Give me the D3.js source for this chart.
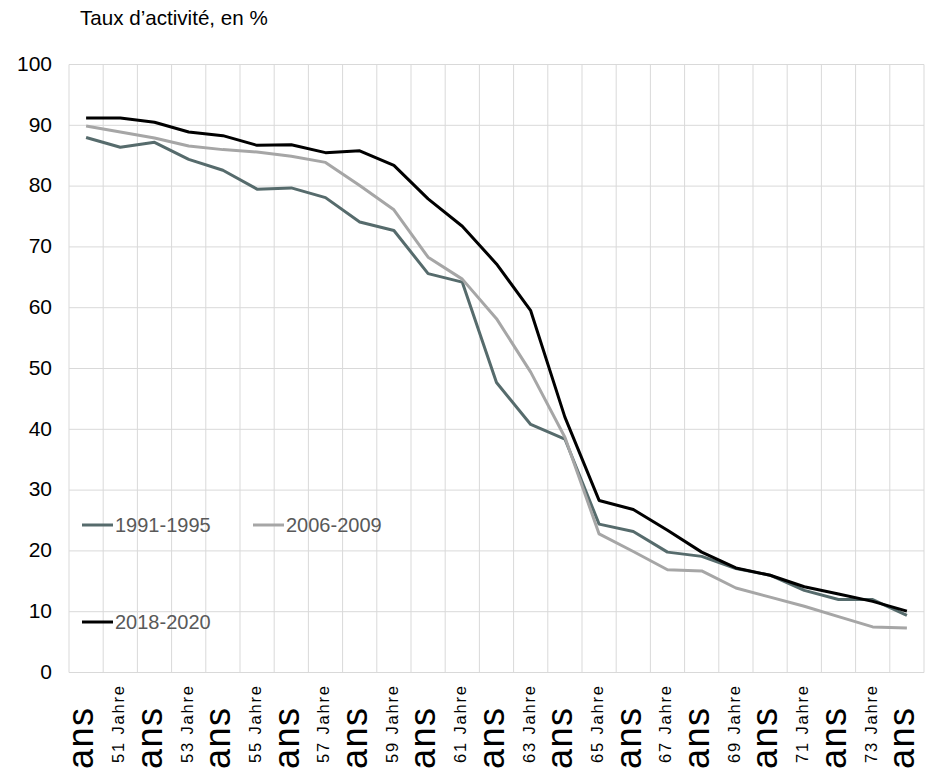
<!DOCTYPE html>
<html>
<head>
<meta charset="utf-8">
<script src="https://cdn.jsdelivr.net/npm/d3@7/dist/d3.min.js"></script>
<style>
  html, body { margin: 0; padding: 0; background: #fff; }
  svg { display: block; font-family: "Liberation Sans", Arial, sans-serif; }
</style>
</head>
<body>
<svg id="chart" width="934" height="772"></svg>
<script>
// Age categories (x axis) and their printed labels
const ages = ["50","51","52","53","54","55","56","57","58","59","60","61","62",
              "63","64","65","66","67","68","69","70","71","72","73","74"];
const ageLabels = ["ans","51 Jahre","ans","53 Jahre","ans","55 Jahre","ans",
                   "57 Jahre","ans","59 Jahre","ans","61 Jahre","ans","63 Jahre",
                   "ans","65 Jahre","ans","67 Jahre","ans","69 Jahre","ans",
                   "71 Jahre","ans","73 Jahre","ans"];

// Activity rate (%) per age, one array per period
const rate1991 = [88.0, 86.4, 87.2, 84.4, 82.6, 79.5, 79.7, 78.1, 74.1, 72.7, 65.6, 64.2, 47.7,
                  40.8, 38.4, 24.4, 23.2, 19.8, 19.1, 17.1, 16.0, 13.5, 12.0, 12.0, 9.4];
const rate2006 = [89.9, 88.9, 87.9, 86.6, 86.0, 85.6, 84.9, 83.9, 80.1, 76.1, 68.3, 64.7, 58.2,
                  49.4, 38.7, 22.8, 19.9, 16.9, 16.7, 13.9, 12.4, 10.9, 9.2, 7.5, 7.3];
const rate2018 = [91.2, 91.2, 90.5, 88.9, 88.3, 86.7, 86.8, 85.5, 85.8, 83.4, 77.9, 73.4, 67.2,
                  59.5, 42.0, 28.3, 26.8, 23.4, 19.8, 17.2, 16.0, 14.1, 12.9, 11.7, 10.1];

const seriesNames = ["1991-1995", "2006-2009", "2018-2020"];
const yTicks = [0, 10, 20, 30, 40, 50, 60, 70, 80, 90, 100];

const series = [
  { name: seriesNames[0], values: rate1991, color: "#566b6c" },
  { name: seriesNames[1], values: rate2006, color: "#a6a6a6" },
  { name: seriesNames[2], values: rate2018, color: "#000000" }
];

const svg = d3.select("#chart");
const plot = { left: 69, right: 924, top: 64.5, bottom: 672.5 };

const x = d3.scaleBand().domain(ages).range([plot.left, plot.right]).paddingInner(0).paddingOuter(0);
const y = d3.scaleLinear().domain([0, 100]).range([plot.bottom, plot.top]);

// Title
svg.append("text")
  .attr("x", 80).attr("y", 25)
  .attr("font-size", 20.6).attr("fill", "#000")
  .text("Taux d’activité, en %");

// Grid: horizontal lines at each tick, vertical lines at band boundaries
const grid = svg.append("g").attr("stroke", "#d9d9d9").attr("stroke-width", 1);
grid.selectAll("line.h").data(yTicks).join("line")
  .attr("class", "h")
  .attr("x1", plot.left).attr("x2", plot.right)
  .attr("y1", d => y(d)).attr("y2", d => y(d));
const boundaries = ages.map(a => x(a)).concat([x(ages[ages.length - 1]) + x.bandwidth()]);
grid.selectAll("line.v").data(boundaries).join("line")
  .attr("class", "v")
  .attr("x1", d => d).attr("x2", d => d)
  .attr("y1", plot.top).attr("y2", plot.bottom);

// Y axis labels
const yAxis = svg.append("g")
  .attr("transform", `translate(${plot.left - 17},0)`)
  .call(d3.axisLeft(y).tickValues(yTicks).tickSize(0).tickPadding(0).tickFormat(d3.format("d")));
yAxis.select(".domain").remove();
yAxis.selectAll("text")
  .attr("font-size", 21).attr("fill", "#000")
  .attr("font-family", "Liberation Sans, Arial, sans-serif")
  .attr("dy", "0.28em");

// X axis labels, rotated; even ages use the large style
const xLab = svg.append("g");
ages.forEach((a, i) => {
  const cx = x(a) + x.bandwidth() / 2;
  const big = i % 2 === 0;
  const t = xLab.append("text")
    .attr("transform", `translate(${cx - 2},${big ? 708 : 686}) rotate(-90)`)
    .attr("text-anchor", "end")
    .attr("font-size", big ? 36 : 16.5)
    .attr("dy", big ? "0.26em" : "0.36em")
    .attr("fill", "#000")
    .text(ageLabels[i]);
  if (big) t.attr("textLength", 61).attr("lengthAdjust", "spacing");
  else t.attr("textLength", 77).attr("lengthAdjust", "spacing");
});

// Series lines
const line = d3.line()
  .x((d, i) => x(ages[i]) + x.bandwidth() / 2)
  .y(d => y(d));
svg.append("g").selectAll("path").data(series).join("path")
  .attr("fill", "none")
  .attr("stroke", d => d.color)
  .attr("stroke-width", 3)
  .attr("stroke-linejoin", "round")
  .attr("d", d => line(d.values));

// Legend
const legendPos = [
  { x: 82, y: 525 },
  { x: 253, y: 525 },
  { x: 82, y: 622 }
];
const legend = svg.append("g").selectAll("g").data(series).join("g")
  .attr("transform", (d, i) => `translate(${legendPos[i].x},${legendPos[i].y})`);
legend.append("line")
  .attr("x1", 0).attr("x2", 31).attr("y1", 0).attr("y2", 0)
  .attr("stroke", d => d.color).attr("stroke-width", 3);
legend.append("text")
  .attr("x", 33).attr("y", 0).attr("dy", "0.36em")
  .attr("font-size", 20).attr("fill", "#595959")
  .text(d => d.name);
</script>
</body>
</html>
